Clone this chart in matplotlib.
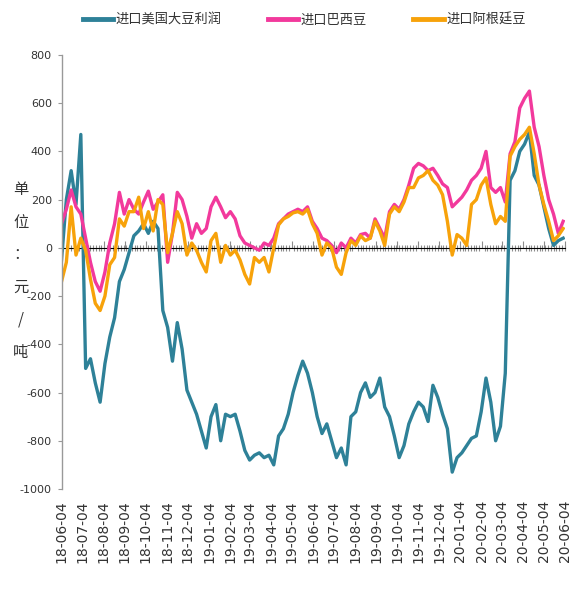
import matplotlib
matplotlib.use("Agg")
import matplotlib.pyplot as plt
import matplotlib.dates as mdates
import pandas as pd
import numpy as np

plt.rcParams['font.family'] = ['Noto Sans CJK SC', 'DejaVu Sans']

# Weekly observations, 2018-06-04 .. 2020-06-01
dates = pd.date_range("2018-06-04", periods=105, freq="7D")

us_margin = [
    -50, 200, 320, 180, 470, -500, -460, -560, -640, -480,
    -370, -290, -140, -90, -20, 50, 70, 100, 60, 110,
    80, -260, -330, -470, -310, -420, -590, -640, -690, -760,
    -830, -700, -650, -800, -690, -700, -690, -760, -840, -880,
    -860, -850, -870, -860, -900, -780, -750, -690, -600, -530,
    -470, -520, -600, -700, -770, -730, -800, -870, -830, -900,
    -700, -680, -600, -560, -620, -600, -540, -660, -700, -780,
    -870, -820, -730, -680, -640, -660, -720, -570, -620, -690,
    -750, -930, -870, -850, -820, -790, -780, -680, -540, -640,
    -800, -740, -520, 280, 320, 400, 430, 480, 300, 260,
    170, 80, 10, 30, 40,
]

brazil = [
    100, 160, 240, 170, 140, 40, -60, -140, -180, -100,
    20, 100, 230, 140, 200, 160, 140, 190, 235, 160,
    190, 220, -60, 60, 230, 200, 130, 40, 100, 60,
    80, 170, 210, 170, 125, 150, 120, 50, 20, 10,
    0, -10, 20, 10, 40, 100, 120, 140, 150, 160,
    150, 170, 110, 80, 40, 30, 10, -20, 20, 0,
    40, 20, 55, 60, 40, 120, 80, 40, 150, 180,
    160, 200, 260, 330, 350, 340, 320, 330, 300, 265,
    250, 170, 190, 210, 240, 280, 300, 330, 400, 250,
    230, 250, 190, 390, 440, 580, 620, 650, 500, 420,
    300, 200, 140, 60, 110,
]

argentina = [
    -140, -60, 170, -30, 40, -10, -130, -230, -260, -200,
    -70, -40, 120, 90, 150, 150, 210, 80, 150, 70,
    200, 180, -20, 60, 150, 100, -30, 20, -10, -60,
    -100, 30, 60, -60, 10, -30, -10, -50, -110, -150,
    -40, -60, -40, -100, 0, 95, 120, 130, 145, 150,
    140, 160, 100, 60, -30, 20, 0, -80, -110, -20,
    30, 10, 50, 30, 40, 110, 70, 10, 140, 170,
    150, 190, 250, 250, 290, 300, 320, 280, 260, 220,
    110, -30, 55, 40, 10, 180, 200, 260, 290, 180,
    100, 130, 110, 380, 420, 450, 470, 500, 390, 260,
    180, 110, 30, 50, 80,
]

series_names = ["进口美国大豆利润", "进口巴西豆", "进口阿根廷豆"]
series_colors = ["#2E8198", "#F2399C", "#F7A20A"]

y_ticks = [800, 600, 400, 200, 0, -200, -400, -600, -800, -1000]
month_ticks = pd.date_range("2018-06-01", "2020-06-01", freq="MS") + pd.Timedelta(days=3)
month_labels = [d.strftime("%y-%m-%d") for d in month_ticks]
y_label = "单位：元/吨"

fig = plt.figure(figsize=(5.75, 6.0), dpi=100)
ax = fig.add_axes([0.107, 0.185, 0.876, 0.7235])

for vals, name, col in zip([us_margin, brazil, argentina], series_names, series_colors):
    ax.plot(dates, vals, color=col, lw=2.4, label=name, solid_joinstyle="round")

ax.set_ylim(-1000, 800)
ax.set_xlim(month_ticks[0], month_ticks[-1])

# y axis
ax.set_yticks(y_ticks)
ax.set_yticklabels([str(v) for v in y_ticks], fontsize=8, color="#333333",
                   family=["Liberation Sans Narrow", "DejaVu Sans"])
ax.tick_params(axis="y", direction="out", length=3, color="#999999", pad=4)

# x tick labels sit below the plot
ax.set_xticks(month_ticks)
ax.set_xticklabels(month_labels, rotation=90, fontsize=10, color="#333333",
                   family=["DejaVu Sans"], va="top", ha="center")
ax.tick_params(axis="x", length=0, pad=8)

for side in ["top", "right", "bottom"]:
    ax.spines[side].set_visible(False)
ax.spines["left"].set_color("#999999")
ax.spines["left"].set_linewidth(1.0)

# category axis drawn along the zero line
zero_pos = (0 - (-1000)) / (800 - (-1000))
zax = ax.secondary_xaxis(zero_pos)
zax.spines["bottom"].set_color("#8C8C8C")
zax.spines["bottom"].set_linewidth(1.2)
zax.set_xticks(month_ticks)
zax.set_xticklabels([])
zax.tick_params(axis="x", which="major", direction="out", length=5, color="#8C8C8C")
zax.xaxis.set_minor_locator(mdates.DayLocator(interval=4))
zax.tick_params(axis="x", which="minor", direction="inout", length=4, width=0.8, color="#8C8C8C")

# stacked vertical unit label
fig.text(0.036, 0.548, "\n".join(list(y_label)), fontsize=11, color="#333333",
         ha="center", va="center", linespacing=2.2)

leg = fig.legend(loc="upper center", bbox_to_anchor=(0.529, 0.997), ncol=3, frameon=False,
                 fontsize=9.5, handlelength=2.3, handletextpad=0.2, columnspacing=3.5)
for h in leg.get_lines():
    h.set_linewidth(3.5)
for t in leg.get_texts():
    t.set_color("#333333")

fig.savefig("out.png", dpi=100)
